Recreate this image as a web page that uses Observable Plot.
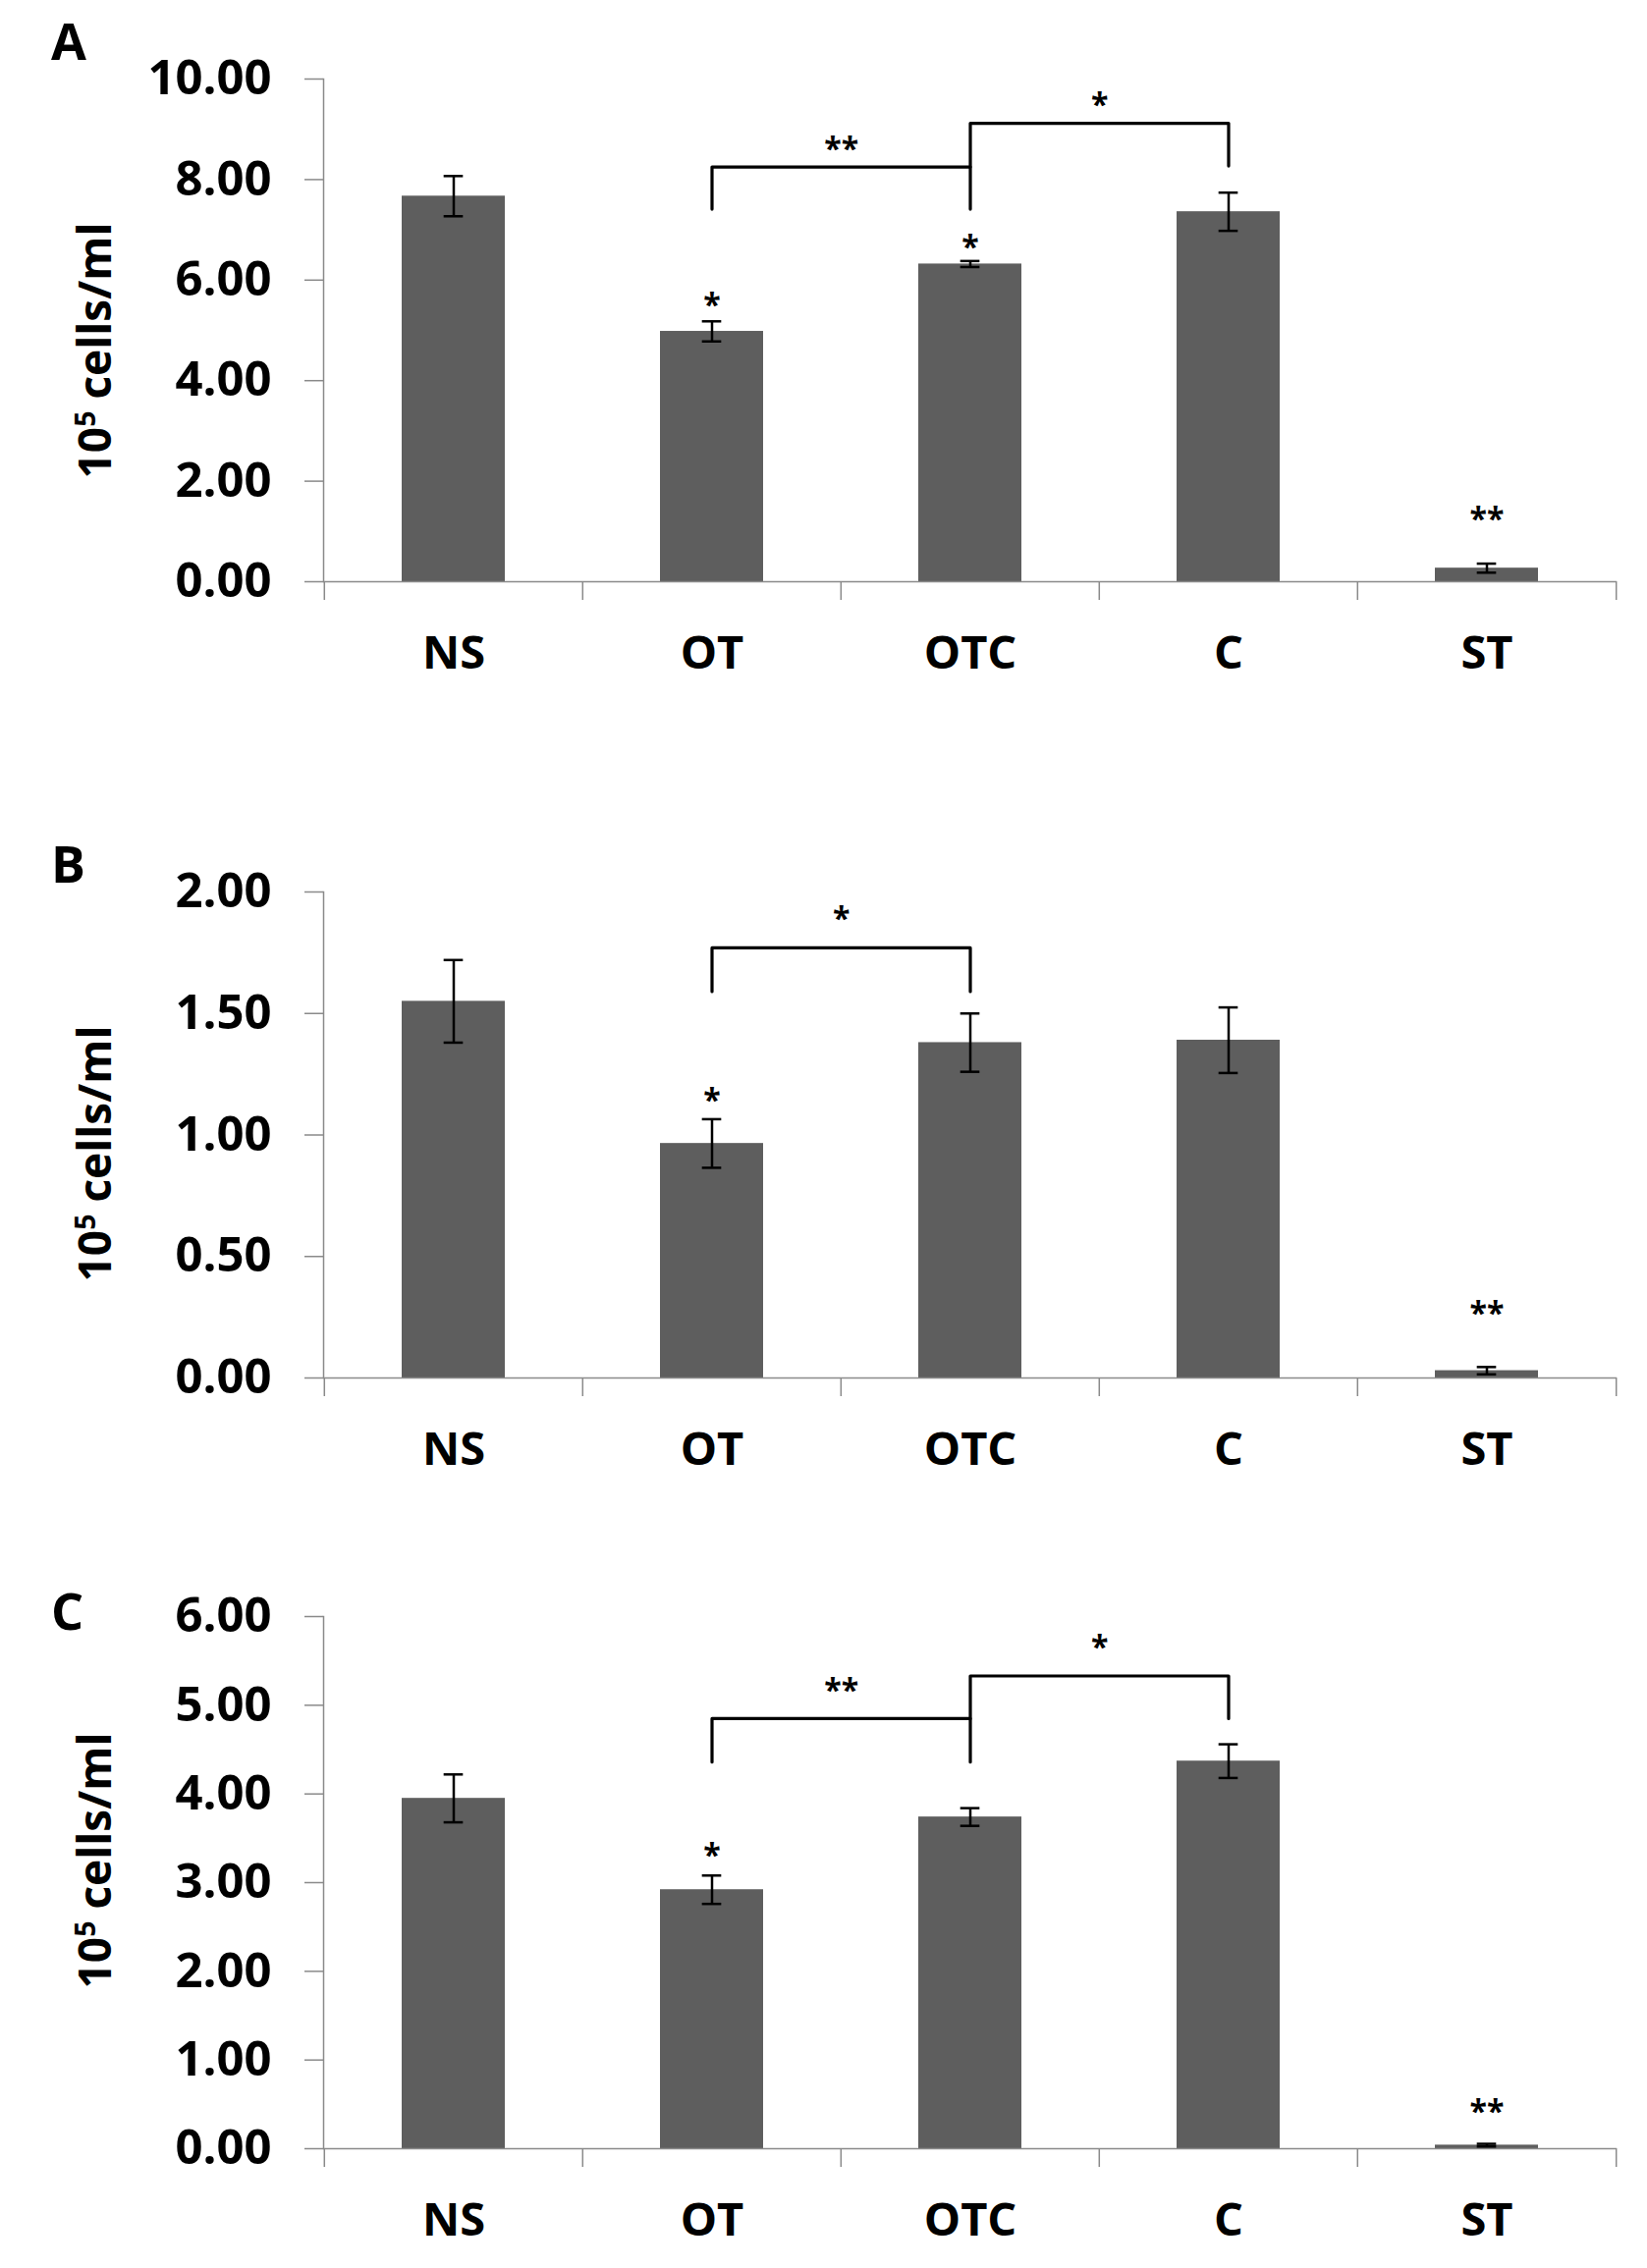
<!DOCTYPE html>
<html>
<head>
<meta charset="utf-8">
<script src="https://cdn.jsdelivr.net/npm/d3@7"></script>
<script src="https://cdn.jsdelivr.net/npm/@observablehq/plot@0.6"></script>
<style>
  html, body { margin: 0; padding: 0; background: white; }
  #root { position: relative; width: 1677px; height: 2310px; font-family: 'Open Sans', sans-serif; }
  .panel-svg { position: absolute; left: 0; }
  .letter { position: absolute; left: 52px; font-size: 52px; font-weight: 700; line-height: 1; }
  .ylab { position: absolute; font-size: 46px; font-weight: 700; line-height: 1; white-space: nowrap;
          transform: translate(-50%, -50%) rotate(-90deg); }
  .ylab sup { font-size: 0.62em; vertical-align: 0.55em; line-height: 0; }
</style>
</head>
<body>
<div id="root"></div>
<script>
// ---- data ----
const categories = ["NS", "OT", "OTC", "C", "ST"];

const meansA = [7.67, 4.98, 6.32, 7.36, 0.27];
const errA   = [0.40, 0.20, 0.06, 0.38, 0.09];
const meansB = [1.55, 0.965, 1.38, 1.39, 0.03];
const errB   = [0.17, 0.10, 0.12, 0.135, 0.015];
const meansC = [3.95, 2.92, 3.74, 4.37, 0.04];
const errC   = [0.27, 0.16, 0.10, 0.19, 0.015];

const ticksA = [0, 2, 4, 6, 8, 10];
const ticksB = [0, 0.5, 1, 1.5, 2];
const ticksC = [0, 1, 2, 3, 4, 5, 6];

// significance marks above bars
const starsA = [{cat: "OT", y: 5.63, label: "*"}, {cat: "OTC", y: 6.80, label: "*"}, {cat: "ST", y: 1.38, label: "**"}];
const starsB = [{cat: "OT", y: 1.17, label: "*"}, {cat: "ST", y: 0.295, label: "**"}];
const starsC = [{cat: "OT", y: 3.38, label: "*"}, {cat: "ST", y: 0.50, label: "**"}];

// comparison brackets
const bracketsA = [
  {from: "OT", to: "OTC", y: 8.25, yFrom: 7.41, yTo: 7.41, label: "**", labelY: 8.75},
  {from: "OTC", to: "C", y: 9.12, yFrom: 8.25, yTo: 8.27, label: "*", labelY: 9.62}
];
const bracketsB = [
  {from: "OT", to: "OTC", y: 1.77, yFrom: 1.59, yTo: 1.59, label: "*", labelY: 1.92}
];
const bracketsC = [
  {from: "OT", to: "OTC", y: 4.85, yFrom: 4.36, yTo: 4.36, label: "**", labelY: 5.24},
  {from: "OTC", to: "C", y: 5.33, yFrom: 4.85, yTo: 4.85, label: "*", labelY: 5.73}
];

// ---- layout ----
const W = 1677, ML = 329, MR = 31;
const step = (W - ML - MR) / categories.length;
const bandwidth = step * 0.4;
const capInset = (bandwidth - 20) / 2;
const axisGrey = "#8a8a8a";
const barFill = "#5e5e5e";

function panel({means, errs, ticks, max, stars, brackets, top, marginTop, innerH, marginBottom}) {
  const rows = categories.map((c, i) => ({cat: c, mean: means[i], err: errs[i]}));
  const pts = [];
  brackets.forEach((b, k) => {
    pts.push({id: k, x: b.from, y: b.yFrom});
    pts.push({id: k, x: b.from, y: b.y});
    pts.push({id: k, x: b.to, y: b.y});
    pts.push({id: k, x: b.to, y: b.yTo});
  });
  const plot = Plot.plot({
    width: W,
    height: marginTop + innerH + marginBottom,
    marginLeft: ML, marginRight: MR, marginTop, marginBottom,
    style: {fontFamily: "'Open Sans', sans-serif", background: "transparent", color: "black", overflow: "visible"},
    x: {domain: categories, paddingInner: 0.6, paddingOuter: 0.3},
    y: {domain: [0, max]},
    marks: [
      Plot.barY(rows, {x: "cat", y: "mean", fill: barFill}),
      Plot.frame({anchor: "left", stroke: axisGrey, strokeWidth: 1.5}),
      Plot.ruleY([0], {stroke: axisGrey, strokeWidth: 1.5}),
      Plot.ruleX(categories, {x: d => d, y1: 0, y2: 0, insetBottom: -19, dx: -step / 2, stroke: axisGrey, strokeWidth: 1.5}),
      Plot.ruleX(categories.slice(-1), {x: d => d, y1: 0, y2: 0, insetBottom: -19, dx: step / 2, stroke: axisGrey, strokeWidth: 1.5}),
      Plot.axisY({ticks, tickFormat: d => d.toFixed(2), tickSize: 19, tickPadding: 34, fontSize: 49, fontWeight: "bold",
                  stroke: axisGrey, strokeWidth: 1.5, fill: "black", label: null}),
      Plot.axisX({tickSize: 0, tickPadding: 55, fontSize: 47, fontWeight: "bold", fill: "black", label: null}),
      Plot.ruleX(rows, {x: "cat", y1: d => d.mean - d.err, y2: d => d.mean + d.err, stroke: "black", strokeWidth: 2.5}),
      Plot.tickY(rows, {x: "cat", y: d => d.mean - d.err, insetLeft: capInset, insetRight: capInset, stroke: "black", strokeWidth: 2.5}),
      Plot.tickY(rows, {x: "cat", y: d => d.mean + d.err, insetLeft: capInset, insetRight: capInset, stroke: "black", strokeWidth: 2.5}),
      Plot.line(pts, {x: "x", y: "y", z: "id", stroke: "black", strokeWidth: 3.2, curve: "linear"}),
      Plot.text(stars, {x: "cat", y: "y", text: "label", fontSize: 32, fontWeight: "bold", dy: 8, fill: "black"}),
      Plot.text(brackets, {x: "from", y: "labelY", text: "label", fontSize: 32, fontWeight: "bold", dx: step / 2, dy: 8, fill: "black"})
    ]
  });
  plot.classList.add("panel-svg");
  plot.style.top = top + "px";
  return plot;
}

const root = document.getElementById("root");
root.appendChild(panel({means: meansA, errs: errA, ticks: ticksA, max: 10, stars: starsA, brackets: bracketsA,
  top: 0, marginTop: 80, innerH: 512, marginBottom: 120}));
root.appendChild(panel({means: meansB, errs: errB, ticks: ticksB, max: 2, stars: starsB, brackets: bracketsB,
  top: 800, marginTop: 108, innerH: 495, marginBottom: 120}));
root.appendChild(panel({means: meansC, errs: errC, ticks: ticksC, max: 6, stars: starsC, brackets: bracketsC,
  top: 1540, marginTop: 106, innerH: 542, marginBottom: 110}));

// panel letters and y-axis titles
const letters = [{t: "A", top: 15}, {t: "B", top: 853}, {t: "C", top: 1614}];
letters.forEach(l => {
  const d = document.createElement("div");
  d.className = "letter"; d.textContent = l.t; d.style.top = l.top + "px";
  root.appendChild(d);
});
const ylabCenters = [357, 1175, 1895];
ylabCenters.forEach(cy => {
  const d = document.createElement("div");
  d.className = "ylab";
  d.innerHTML = "10<sup>5</sup> cells/ml";
  d.style.left = "95px"; d.style.top = cy + "px";
  root.appendChild(d);
});
</script>
</body>
</html>
